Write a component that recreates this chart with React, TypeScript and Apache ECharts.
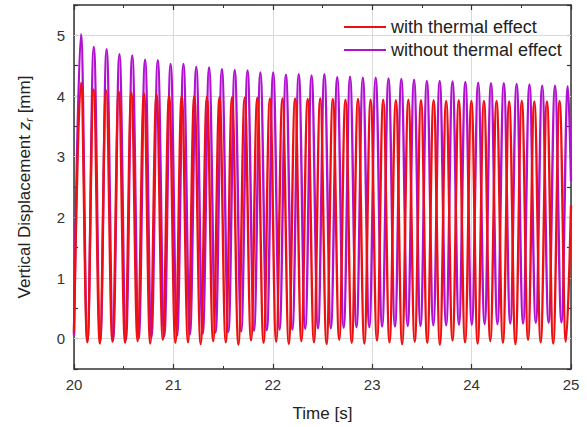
import React, { useEffect, useRef } from "react";
import * as echarts from "echarts";

// Time window and axis ticks
const xTicks = [20, 21, 22, 23, 24, 25];
const yTicks = [0, 1, 2, 3, 4, 5];

// "with thermal effect" (red) — peaks and troughs
const redStart: [number, number] = [20.0, 0.1];
const redEnd: [number, number] = [25.0, 2.2];
const redPeakT = [20.070, 20.197, 20.323, 20.450, 20.577, 20.704, 20.830, 20.957, 21.084, 21.210, 21.337, 21.464, 21.590, 21.717, 21.844, 21.971, 22.097, 22.224, 22.351, 22.477, 22.604, 22.731, 22.857, 22.984, 23.111, 23.238, 23.364, 23.491, 23.618, 23.744, 23.871, 23.998, 24.124, 24.251, 24.378, 24.505, 24.631, 24.758, 24.885];
const redPeakV = [4.22, 4.11, 4.09, 4.08, 4.06, 4.04, 4.03, 4.01, 4.00, 4.00, 3.99, 3.98, 3.98, 3.97, 3.97, 3.96, 3.96, 3.96, 3.95, 3.96, 3.95, 3.94, 3.95, 3.94, 3.94, 3.93, 3.94, 3.93, 3.93, 3.92, 3.93, 3.92, 3.92, 3.92, 3.91, 3.92, 3.91, 3.91, 3.92];
const redTroughT = [20.134, 20.260, 20.387, 20.514, 20.640, 20.767, 20.894, 21.020, 21.147, 21.274, 21.400, 21.527, 21.654, 21.781, 21.907, 22.034, 22.161, 22.287, 22.414, 22.541, 22.668, 22.794, 22.921, 23.048, 23.174, 23.301, 23.428, 23.554, 23.681, 23.808, 23.934, 24.061, 24.188, 24.315, 24.441, 24.568, 24.695, 24.821, 24.948];
const redTroughV = [-0.06, -0.08, -0.05, -0.07, -0.04, -0.08, -0.02, -0.07, -0.06, -0.09, -0.04, -0.06, -0.1, -0.03, -0.07, -0.05, -0.09, -0.04, -0.06, -0.09, -0.02, -0.07, -0.08, -0.03, -0.06, -0.09, -0.05, -0.07, -0.1, -0.03, -0.06, -0.08, -0.04, -0.07, -0.09, -0.02, -0.06, -0.08, -0.05];

// "without thermal effect" (purple)
const purStart: [number, number] = [20.0, 0.05];
const purEnd: [number, number] = [25.0, 2.6];
const purPeakT = [20.070, 20.199, 20.328, 20.457, 20.586, 20.715, 20.843, 20.972, 21.101, 21.230, 21.359, 21.488, 21.617, 21.746, 21.875, 22.004, 22.132, 22.261, 22.390, 22.519, 22.648, 22.777, 22.906, 23.035, 23.164, 23.293, 23.421, 23.550, 23.679, 23.808, 23.937, 24.066, 24.195, 24.324, 24.453, 24.582, 24.710, 24.839, 24.968];
const purPeakV = [5.02, 4.81, 4.77, 4.69, 4.67, 4.60, 4.59, 4.53, 4.53, 4.48, 4.47, 4.44, 4.43, 4.42, 4.39, 4.39, 4.35, 4.36, 4.34, 4.36, 4.31, 4.32, 4.30, 4.30, 4.29, 4.28, 4.27, 4.25, 4.25, 4.24, 4.23, 4.22, 4.21, 4.21, 4.20, 4.19, 4.17, 4.17, 4.16];
const purTroughT = [20.135, 20.264, 20.393, 20.522, 20.651, 20.779, 20.908, 21.037, 21.166, 21.295, 21.424, 21.553, 21.682, 21.811, 21.940, 22.068, 22.197, 22.326, 22.455, 22.584, 22.713, 22.842, 22.971, 23.100, 23.229, 23.357, 23.486, 23.615, 23.744, 23.873, 24.002, 24.131, 24.260, 24.389, 24.518, 24.646, 24.775, 24.904];
const purTroughV = [-0.04, -0.04, -0.03, -0.02, 0.0, 0.02, 0.04, 0.05, 0.07, 0.08, 0.1, 0.11, 0.12, 0.13, 0.14, 0.15, 0.15, 0.16, 0.17, 0.17, 0.18, 0.19, 0.19, 0.2, 0.2, 0.21, 0.21, 0.22, 0.22, 0.23, 0.23, 0.24, 0.24, 0.25, 0.25, 0.26, 0.26, 0.27];

const NAME_RED = "with thermal effect";
const NAME_PUR = "without thermal effect";

function build(
  start: [number, number],
  pt: number[], pv: number[], tt: number[], tv: number[],
  end: [number, number]
): [number, number][] {
  const pts: [number, number][] = [];
  pt.forEach((t, i) => pts.push([t, pv[i]]));
  tt.forEach((t, i) => pts.push([t, tv[i]]));
  pts.sort((a, b) => a[0] - b[0]);
  return [start, ...pts, end];
}

const FONT = "'Liberation Sans', Arial, sans-serif";

export default function App() {
  const ref = useRef<HTMLDivElement>(null);
  useEffect(() => {
    if (!ref.current) return;
    const chart = echarts.init(ref.current, undefined, { renderer: "svg" });
    const axisLineStyle = { color: "#333", width: 1.5 };
    const xBase = {
      type: "value" as const,
      min: xTicks[0],
      max: xTicks[xTicks.length - 1],
      interval: 1,
      axisLine: { show: true, onZero: false, lineStyle: axisLineStyle },
      axisTick: { show: true, inside: true, length: 5, lineStyle: { color: "#333", width: 1.2 } },
      minorTick: { show: true, splitNumber: 2, length: 3, lineStyle: { color: "#333", width: 1 } },
    };
    const yBase = {
      type: "value" as const,
      min: -0.5,
      max: 5.5,
      interval: 0.5,
      axisLine: { show: true, onZero: false, lineStyle: axisLineStyle },
      axisTick: { show: true, inside: true, length: 4, lineStyle: { color: "#333", width: 1.2 } },
      splitLine: { show: false },
    };
    chart.setOption({
      animation: false,
      backgroundColor: "#fff",
      textStyle: { fontFamily: FONT },
      grid: { left: 74, right: 16, top: 5, bottom: 56, containLabel: false },
      legend: {
        data: [
          { name: NAME_RED, icon: "rect" },
          { name: NAME_PUR, icon: "rect" },
        ],
        orient: "vertical",
        left: 339,
        top: 13,
        itemWidth: 42,
        itemHeight: 2,
        itemGap: 5,
        textStyle: { fontSize: 18, color: "#222", fontFamily: FONT, lineHeight: 17 },
      },
      xAxis: [
        {
          ...xBase,
          position: "bottom",
          name: "Time [s]",
          nameLocation: "middle",
          nameGap: 36,
          nameTextStyle: { fontSize: 17, color: "#222", fontFamily: FONT },
          axisLabel: { show: true, fontSize: 15, color: "#333", margin: 8, fontFamily: FONT },
          splitLine: { show: true, lineStyle: { color: "#d9d9d9", width: 1 } },
        },
        {
          ...xBase,
          position: "top",
          axisLabel: { show: false },
          splitLine: { show: false },
        },
      ],
      yAxis: [
        {
          ...yBase,
          position: "left",
          name: "Vertical Displacement {i|z}{s|r} [mm]",
          nameLocation: "middle",
          nameGap: 40,
          nameRotate: 90,
          nameTextStyle: {
            fontSize: 17,
            color: "#222",
            fontFamily: FONT,
            rich: {
              i: { fontSize: 17, fontStyle: "italic", color: "#222", fontFamily: FONT },
              s: { fontSize: 11, fontStyle: "italic", color: "#222", fontFamily: FONT, verticalAlign: "bottom", padding: [8, 0, 0, 0] },
            },
          },
          axisLabel: {
            show: true,
            fontSize: 15,
            color: "#333",
            margin: 9,
            fontFamily: FONT,
            formatter: (v: number) => (yTicks.includes(v) ? String(v) : ""),
          },
        },
        {
          ...yBase,
          position: "right",
          axisLabel: { show: false },
        },
      ],
      series: [
        {
          name: "grid",
          type: "line",
          data: [],
          silent: true,
          z: 1,
          markLine: {
            silent: true,
            z: 1,
            symbol: "none",
            label: { show: false },
            lineStyle: { color: "#d9d9d9", type: "solid", width: 1 },
            data: yTicks.map((v) => ({ yAxis: v })),
          },
        },
        {
          name: NAME_PUR,
          type: "line",
          data: build(purStart, purPeakT, purPeakV, purTroughT, purTroughV, purEnd),
          showSymbol: false,
          symbol: "none",
          smooth: 0.4,
          smoothMonotone: "x",
          lineStyle: { color: "#b010cf", width: 2.4 },
          itemStyle: { color: "#b010cf" },
          z: 2,
        },
        {
          name: NAME_RED,
          type: "line",
          data: build(redStart, redPeakT, redPeakV, redTroughT, redTroughV, redEnd),
          showSymbol: false,
          symbol: "none",
          smooth: 0.4,
          smoothMonotone: "x",
          lineStyle: { color: "#ee1010", width: 2.4 },
          itemStyle: { color: "#ee1010" },
          z: 3,
        },
      ],
    });
    return () => chart.dispose();
  }, []);
  return <div ref={ref} style={{ width: 587, height: 427, position: "absolute", left: 0, top: 0 }} />;
}
